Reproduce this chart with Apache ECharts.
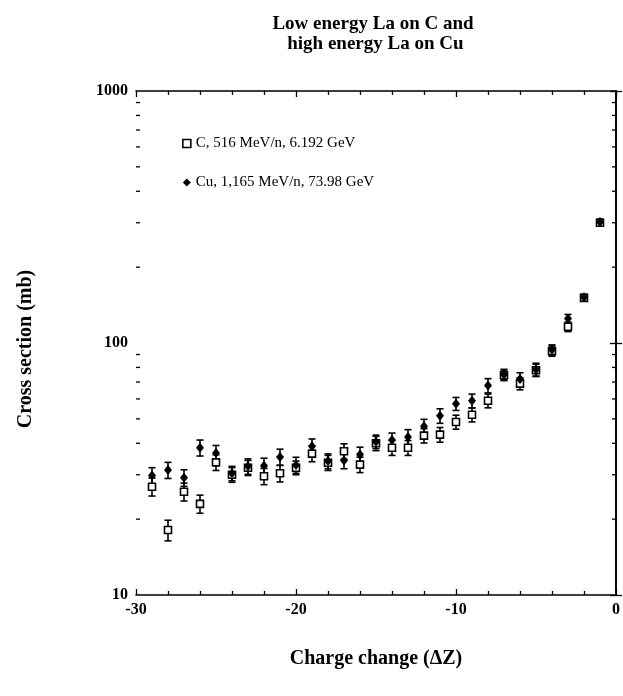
<!DOCTYPE html>
<html>
<head>
<meta charset="utf-8">
<script src="https://cdn.jsdelivr.net/npm/echarts@6/dist/echarts.min.js"></script>
<style>html,body{margin:0;padding:0;background:#fff}#c{width:623px;height:696px}</style>
</head>
<body>
<div id="c"></div>
<script>
// ---- data ----
var chargeChange = [-29,-28,-27,-26,-25,-24,-23,-22,-21,-20,-19,-18,-17,-16,-15,-14,-13,-12,-11,-10,-9,-8,-7,-6,-5,-4,-3,-2,-1];
var sigmaC  = [26.9,18.1,25.7,23.0,33.6,30.0,32.0,29.6,30.4,32.0,36.4,33.5,37.2,32.9,40.0,38.4,38.4,42.9,43.3,48.6,51.9,59.0,74.5,69.0,78.0,93,116,151,300];
var errC    = [2.2,1.7,2.1,1.9,2.4,2.0,2.2,2.2,2.3,2.0,2.6,2.3,2.6,2.3,2.6,2.6,2.6,2.8,2.9,3.1,3.3,3.7,3.6,3.8,4.4,4.4,5.0,4,8];
var sigmaCu = [29.8,31.3,29.2,38.4,36.6,30.4,32.4,32.6,35.3,32.8,38.9,34.0,34.2,36.1,40.6,41.2,42.4,46.7,51.4,57.4,59.0,67.8,75.0,71.9,78.5,94,125,152,302];
var errCu   = [2.2,2.3,2.2,2.8,2.6,2.0,2.3,2.3,2.6,2.4,2.7,2.3,2.5,2.5,2.5,2.7,2.9,3.1,3.4,3.4,3.7,4.4,3.6,4.3,4.6,4.3,4.8,4,8];
var seriesNames = ['C, 516 MeV/n, 6.192 GeV', 'Cu, 1,165 MeV/n, 73.98 GeV'];
var yMinorTicks = [20,30,40,50,60,70,80,90,200,300,400,500,600,700,800,900];
var titleLines = ['Low energy La on C and', ' high energy La on Cu'];
var xAxisName = 'Charge change (\u0394Z)';
var yAxisName = 'Cross section (mb)';

var FONT = 'Liberation Serif';
function pts(ys){ return chargeChange.map(function(x,i){ return [x, ys[i]]; }); }
function errs(ys, es){ return chargeChange.map(function(x,i){ return [x, ys[i]-es[i], ys[i]+es[i]]; }); }

function errorRender(params, api){
  var x = api.value(0);
  var lo = api.coord([x, api.value(1)]);
  var hi = api.coord([x, api.value(2)]);
  var w = 3.5;
  var st = {stroke:'#000', lineWidth:1.6};
  return {type:'group', children:[
    {type:'line', shape:{x1:lo[0],y1:lo[1],x2:hi[0],y2:hi[1]}, style:st},
    {type:'line', shape:{x1:lo[0]-w,y1:lo[1],x2:lo[0]+w,y2:lo[1]}, style:st},
    {type:'line', shape:{x1:hi[0]-w,y1:hi[1],x2:hi[0]+w,y2:hi[1]}, style:st}
  ]};
}
function minorTickRender(params, api){
  var v = api.value(0);
  var l = api.coord([-30, v]);
  var r = api.coord([0, v]);
  var st = {stroke:'#000', lineWidth:1.3};
  return {type:'group', children:[
    {type:'line', shape:{x1:l[0],y1:l[1],x2:l[0]+4,y2:l[1]}, style:st},
    {type:'line', shape:{x1:r[0],y1:r[1],x2:r[0]-4,y2:r[1]}, style:st}
  ]};
}

var chart = echarts.init(document.getElementById('c'), null, {renderer:'canvas'});
var axisLabelStyle = {fontFamily:FONT, fontWeight:'bold', fontSize:16, color:'#000'};
var nameStyle = {fontFamily:FONT, fontWeight:'bold', fontSize:20, color:'#000'};
var xBase = {
  type:'value', min:-30, max:0, interval:10,
  axisLine:{show:true, onZero:false, lineStyle:{color:'#000', width:1.6}},
  axisTick:{show:true, inside:true, length:6, lineStyle:{color:'#000', width:1.3}},
  minorTick:{show:true, splitNumber:5, length:4, lineStyle:{color:'#000', width:1.3}},
  splitLine:{show:false}
};
var yBase = {
  type:'log', logBase:10, min:10, max:1000,
  axisLine:{show:true, lineStyle:{color:'#000', width:1.6}},
  axisTick:{show:true, inside:true, length:6, lineStyle:{color:'#000', width:1.3}},
  splitLine:{show:false}
};
var option = {
  backgroundColor:'#fff',
  animation:false,
  title:{
    text: titleLines.join('\n'),
    left: 368, top: 9, textAlign:'center',
    textStyle:{fontFamily:FONT, fontWeight:'bold', fontSize:19, color:'#000', lineHeight:20}
  },
  legend:{
    orient:'vertical', left:177, top:131, itemGap:24,
    itemWidth:8, itemHeight:8,
    textStyle:{fontFamily:FONT, fontSize:15, color:'#000'},
    data:[
      {name:seriesNames[0], icon:'rect', itemStyle:{color:'#fff', borderColor:'#000', borderWidth:1.6}},
      {name:seriesNames[1], icon:'diamond', itemStyle:{color:'#000'}}
    ]
  },
  grid:{left:136, right:4, top:91, bottom:101, containLabel:false},
  xAxis:[
    Object.assign({}, xBase, {
      position:'bottom',
      axisLabel:Object.assign({margin:7}, axisLabelStyle),
      name:xAxisName, nameLocation:'middle', nameGap:54,
      nameTextStyle:nameStyle
    }),
    Object.assign({}, xBase, {position:'top', axisLabel:{show:false}})
  ],
  yAxis:[
    Object.assign({}, yBase, {
      position:'left',
      axisLabel:Object.assign({margin:8, formatter:function(v){ return String(Math.round(v)); }}, axisLabelStyle),
      name:yAxisName, nameLocation:'middle', nameGap:100, nameRotate:90,
      nameTextStyle:Object.assign({padding:[0,12,0,0]}, nameStyle)
    }),
    Object.assign({}, yBase, {position:'right', axisLabel:{show:false}})
  ],
  series:[
    {type:'custom', renderItem:minorTickRender, data:yMinorTicks.map(function(v){return [v];}),
     encode:{y:0}, silent:true, z:1, clip:false},
    {type:'custom', renderItem:errorRender, data:errs(sigmaC, errC), encode:{x:0, y:[1,2]}, silent:true, z:2},
    {type:'custom', renderItem:errorRender, data:errs(sigmaCu, errCu), encode:{x:0, y:[1,2]}, silent:true, z:2},
    {name:seriesNames[0], type:'scatter', data:pts(sigmaC), symbol:'rect', symbolSize:7,
     itemStyle:{color:'#fff', borderColor:'#000', borderWidth:1.6, opacity:1}, z:3},
    {name:seriesNames[1], type:'scatter', data:pts(sigmaCu), symbol:'diamond', symbolSize:[8,10],
     itemStyle:{color:'#000', opacity:1}, z:4}
  ]
};
chart.setOption(option);
</script>
</body>
</html>
